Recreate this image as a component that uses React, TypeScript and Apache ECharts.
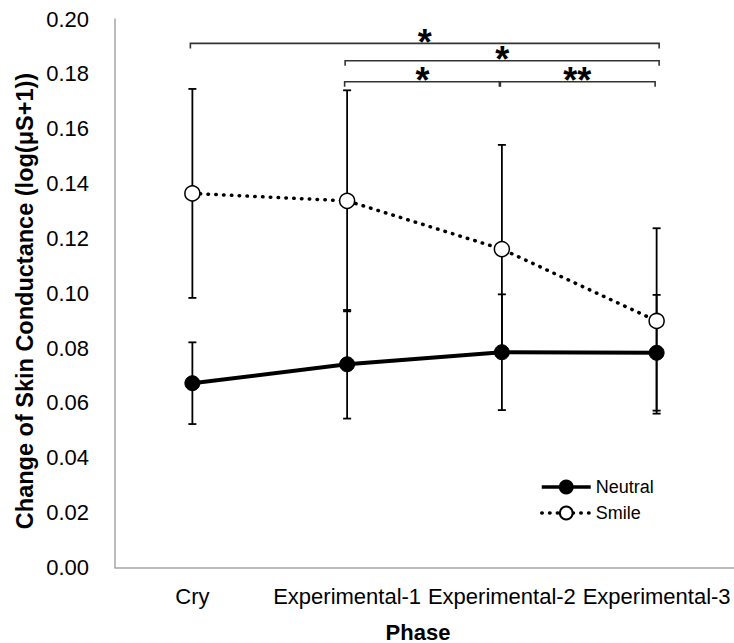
import React, { useEffect, useRef } from "react";
import * as echarts from "echarts";

const categories = ["Cry", "Experimental-1", "Experimental-2", "Experimental-3"];
const neutralMean = [0.0672, 0.0741, 0.0785, 0.0783];
const neutralErr = [0.0149, 0.0198, 0.0211, 0.0211];
const smileMean = [0.1364, 0.1337, 0.1161, 0.0899];
const smileErr = [0.0381, 0.0403, 0.038, 0.0338];

const bracketStart = [0, 1, 1, 2];
const bracketEnd = [3, 3, 2, 3];
const bracketY = [0.1911, 0.1848, 0.1771, 0.1771];
const bracketLabels = ["*", "*", "*", "**"];

const FONT = "'Liberation Sans', Arial, sans-serif";

export default function App() {
  const ref = useRef<HTMLDivElement>(null);
  useEffect(() => {
    if (!ref.current) return;
    const chart = echarts.init(ref.current, null, { renderer: "svg" });

    const errData = (means: number[], errs: number[]) =>
      means.map((m, i) => [i, m, errs[i]]);

    const errRender = (params: any, api: any) => {
      const x = api.value(0);
      const m = api.value(1);
      const e = api.value(2);
      const top = api.coord([x, m + e]);
      const bot = api.coord([x, m - e]);
      const hw = 4;
      const st = { stroke: "#000", lineWidth: 1.8 };
      return {
        type: "group",
        children: [
          { type: "line", shape: { x1: top[0], y1: top[1], x2: bot[0], y2: bot[1] }, style: st },
          { type: "line", shape: { x1: top[0] - hw, y1: top[1], x2: top[0] + hw, y2: top[1] }, style: st },
          { type: "line", shape: { x1: bot[0] - hw, y1: bot[1], x2: bot[0] + hw, y2: bot[1] }, style: st },
        ],
      };
    };

    const bracketData = bracketStart.map((s, i) => [s, bracketEnd[i], bracketY[i]]);
    const bracketRender = (params: any, api: any) => {
      const s = api.value(0);
      const e = api.value(1);
      const y = api.value(2);
      const p1 = api.coord([s, y]);
      const p2 = api.coord([e, y]);
      const split = params.dataIndex >= 2;
      const x1 = split ? p1[0] - 2.5 : p1[0] - 2;
      const x2 = split ? p2[0] - 1.5 : p2[0] + 2.5;
      const yy = p1[1];
      const tick = 5;
      const label = bracketLabels[params.dataIndex];
      return {
        type: "group",
        children: [
          {
            type: "polyline",
            shape: { points: [[x1, yy + tick], [x1, yy], [x2, yy], [x2, yy + tick]] },
            style: { stroke: "#333", lineWidth: 1.6, fill: null },
          },
          {
            type: "text",
            x: (x1 + x2) / 2,
            y: yy - 1,
            style: {
              text: label,
              font: `bold 36px ${FONT}`,
              fill: "#000",
              align: "center",
              verticalAlign: "middle",
              textAlign: "center",
              textVerticalAlign: "middle",
            },
          },
        ],
      };
    };

    chart.setOption({
      animation: false,
      textStyle: { fontFamily: FONT },
      grid: { left: 115, top: 19, width: 620, height: 548.5, containLabel: false },
      legend: {
        orient: "vertical",
        left: 540,
        top: 478,
        padding: 0,
        itemWidth: 49,
        itemHeight: 16,
        itemGap: 8,
        data: ["Neutral", "Smile"],
        lineStyle: { width: 3.5 },
        textStyle: { fontSize: 18, color: "#000", fontFamily: FONT },
      },
      xAxis: {
        type: "category",
        data: categories,
        boundaryGap: true,
        axisLine: { lineStyle: { color: "#a6a6a6", width: 1.5 } },
        axisTick: { show: false },
        axisLabel: { fontSize: 22, color: "#000", margin: 18, fontFamily: FONT, interval: 0 },
      },
      yAxis: {
        type: "value",
        min: 0,
        max: 0.2,
        interval: 0.02,
        splitLine: { show: false },
        axisLine: { show: true, lineStyle: { color: "#a6a6a6", width: 1.5 } },
        axisTick: { show: false },
        axisLabel: {
          fontSize: 22,
          color: "#000",
          margin: 26,
          fontFamily: FONT,
          formatter: (v: number) => v.toFixed(2),
        },
      },
      graphic: [
        {
          type: "text",
          x: 25,
          y: 301,
          rotation: Math.PI / 2,
          style: {
            text: "Change of Skin Conductance (log(μS+1))",
            font: `bold 23.5px ${FONT}`,
            fill: "#000",
            align: "center",
            verticalAlign: "middle",
            textAlign: "center",
            textVerticalAlign: "middle",
          },
        },
        {
          type: "text",
          x: 418,
          y: 632,
          style: {
            text: "Phase",
            font: `bold 22px ${FONT}`,
            fill: "#000",
            align: "center",
            verticalAlign: "middle",
            textAlign: "center",
            textVerticalAlign: "middle",
          },
        },
      ],
      series: [
        {
          type: "custom",
          name: "neutralErr",
          renderItem: errRender,
          data: errData(neutralMean, neutralErr),
          z: 1,
          silent: true,
        },
        {
          type: "custom",
          name: "smileErr",
          renderItem: errRender,
          data: errData(smileMean, smileErr),
          z: 1,
          silent: true,
        },
        {
          type: "custom",
          name: "brackets",
          renderItem: bracketRender,
          data: bracketData,
          z: 1,
          silent: true,
        },
        {
          type: "line",
          name: "Neutral",
          data: neutralMean,
          symbol: "circle",
          symbolSize: 15,
          z: 3,
          lineStyle: { color: "#000", width: 4 },
          itemStyle: { color: "#000", borderColor: "#000", borderWidth: 1 },
        },
        {
          type: "line",
          name: "Smile",
          data: smileMean,
          symbol: "circle",
          symbolSize: 15,
          z: 3,
          lineStyle: { color: "#000", width: 3.5, type: [0.5, 7.3], cap: "round" },
          itemStyle: { color: "#fff", borderColor: "#000", borderWidth: 1.5 },
        },
      ],
    });
    return () => chart.dispose();
  }, []);
  return (
    <div
      ref={ref}
      style={{ position: "absolute", left: 0, top: 0, width: 734, height: 643 }}
    />
  );
}
